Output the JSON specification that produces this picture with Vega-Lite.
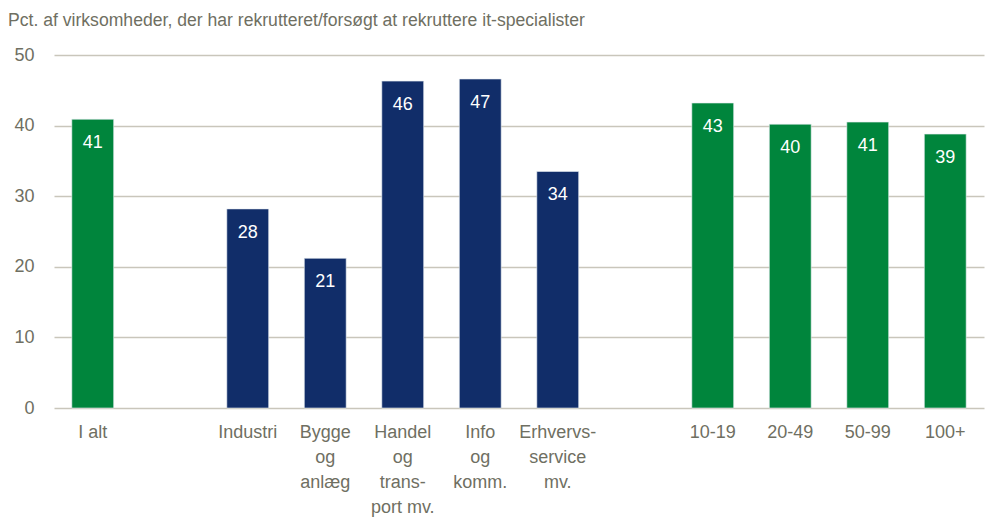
{
  "$schema": "https://vega.github.io/schema/vega-lite/v6.json",
  "width": 930,
  "height": 353,
  "autosize": {"type": "none"},
  "padding": {"left": 54, "top": 55, "right": 3, "bottom": 109},
  "background": "white",
  "title": {
    "text": "Pct. af virksomheder, der har rekrutteret/forsøgt at rekruttere it-specialister",
    "anchor": "start",
    "frame": "group",
    "orient": "top",
    "baseline": "alphabetic",
    "offset": 27,
    "dx": -46,
    "dy": 25,
    "font": "Liberation Sans, Arial, sans-serif",
    "fontSize": 17.6,
    "fontWeight": "normal",
    "color": "#6f6f62"
  },
  "data": {
    "values": [
      {"cat": "I alt", "grp": "total", "value": 40.9, "label": "41"},
      {"cat": "Industri", "grp": "branche", "value": 28.2, "label": "28"},
      {"cat": "Bygge|og|anlæg", "grp": "branche", "value": 21.2, "label": "21"},
      {"cat": "Handel|og|trans-|port mv.", "grp": "branche", "value": 46.3, "label": "46"},
      {"cat": "Info|og|komm.", "grp": "branche", "value": 46.6, "label": "47"},
      {"cat": "Erhvervs-|service|mv.", "grp": "branche", "value": 33.5, "label": "34"},
      {"cat": "10-19", "grp": "str", "value": 43.2, "label": "43"},
      {"cat": "20-49", "grp": "str", "value": 40.2, "label": "40"},
      {"cat": "50-99", "grp": "str", "value": 40.5, "label": "41"},
      {"cat": "100+", "grp": "str", "value": 38.8, "label": "39"}
    ]
  },
  "encoding": {
    "x": {
      "field": "cat",
      "type": "nominal",
      "sort": null,
      "scale": {
        "domain": ["I alt", "g1", "Industri", "Bygge|og|anlæg", "Handel|og|trans-|port mv.", "Info|og|komm.", "Erhvervs-|service|mv.", "g2", "10-19", "20-49", "50-99", "100+"],
        "paddingInner": 0.46,
        "paddingOuter": 0.23
      },
      "axis": {
        "title": null,
        "labelAngle": 0,
        "labelBaseline": "top",
        "labelPadding": 15,
        "labelLineHeight": 25,
        "labelFont": "Liberation Sans, Arial, sans-serif",
        "labelFontSize": 18,
        "labelColor": "#6f6f62",
        "ticks": false,
        "domain": false,
        "grid": false,
        "labelExpr": "datum.value == 'g1' || datum.value == 'g2' ? '' : split(datum.value, '|')"
      }
    },
    "y": {
      "field": "value",
      "type": "quantitative",
      "scale": {"domain": [0, 50], "nice": false},
      "axis": {
        "title": null,
        "values": [0, 10, 20, 30, 40, 50],
        "labelPadding": 20,
        "labelFont": "Liberation Sans, Arial, sans-serif",
        "labelFontSize": 18,
        "labelColor": "#6f6f62",
        "ticks": false,
        "domain": false,
        "grid": true,
        "gridColor": "#c9c6bb",
        "gridWidth": 1.5
      }
    }
  },
  "layer": [
    {
      "mark": {"type": "bar", "stroke": "#e8ecf2", "strokeWidth": 0.6},
      "encoding": {
        "color": {
          "field": "grp",
          "type": "nominal",
          "scale": {"domain": ["total", "branche", "str"], "range": ["#00853c", "#112d69", "#00853c"]},
          "legend": null
        }
      }
    },
    {
      "mark": {
        "type": "text",
        "color": "white",
        "baseline": "middle",
        "dy": 24,
        "font": "Liberation Sans, Arial, sans-serif",
        "fontSize": 18
      },
      "encoding": {"text": {"field": "label"}}
    }
  ],
  "config": {"view": {"stroke": null}}
}
